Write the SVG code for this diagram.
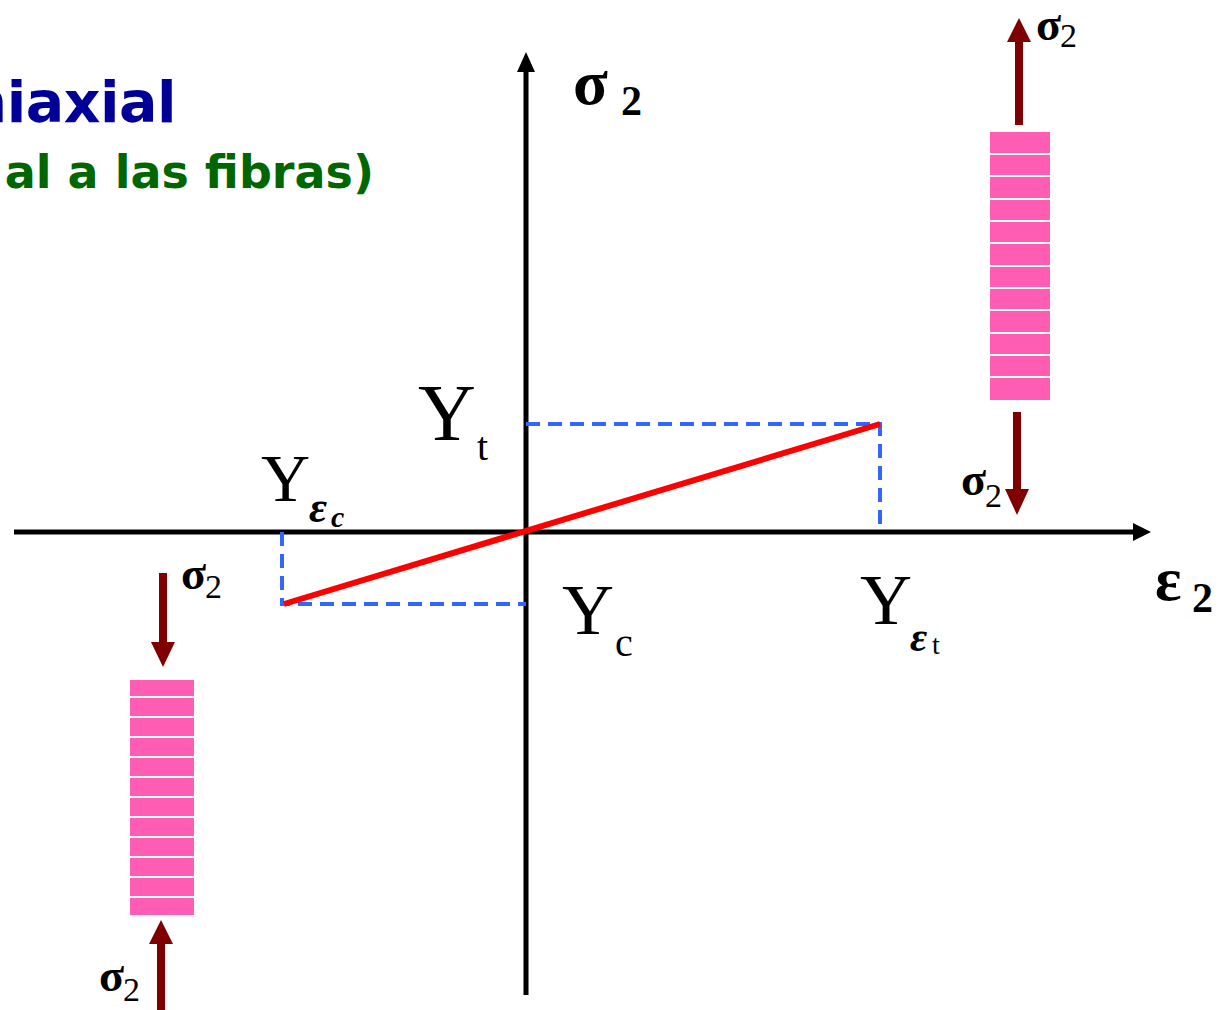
<svg xmlns="http://www.w3.org/2000/svg" width="1225" height="1010" viewBox="0 0 1225 1010">
<style>
.ax{stroke:#000;stroke-width:5;fill:none}
.dash{stroke:#3366ff;stroke-width:4;fill:none;stroke-dasharray:14 8}
.force{fill:#7f0000}
.bar{fill:#ff5cb4}
.stripe{stroke:#fff;stroke-width:2}
.tm{font-family:"Liberation Serif","Times New Roman",serif;fill:#000}
.big{font-size:72px}
.sub{font-size:40px}
.sig{font-size:46px;font-weight:bold}
.sig2{font-size:34px}
</style>
<rect width="1225" height="1010" fill="#fff"/>
<g id="title">
<text x="176" y="122" text-anchor="end" font-family="DejaVu Sans,Verdana,sans-serif" font-weight="bold" font-size="57" letter-spacing="-0.5" fill="#000099">niaxial</text>
<text x="374" y="188" text-anchor="end" font-family="DejaVu Sans,Verdana,sans-serif" font-weight="bold" font-size="46" fill="#006600">al a las fibras)</text>
</g>
<g id="connectors">
<line class="ax" x1="14" y1="532" x2="1136" y2="532"/>
<polygon points="1151,532 1133,523 1133,541" fill="#000"/>
<line class="ax" x1="526" y1="995" x2="526" y2="68"/>
<polygon points="526,52 517,72 535,72" fill="#000"/>
<path class="dash" d="M526,424 H880 V532"/>
<path class="dash" d="M282,532 V604 H526"/>
<line x1="284" y1="604" x2="880" y2="424" stroke="#ff0000" stroke-width="6"/>
</g>
<g id="axis-labels">
<text class="tm" x="573" y="104" font-size="64" font-weight="bold">σ</text>
<text class="tm" x="621" y="115" font-size="42" font-weight="bold">2</text>
<text class="tm" x="1155" y="600" font-size="62" font-weight="bold">ε</text>
<text class="tm" x="1192" y="612" font-size="42" font-weight="bold">2</text>
</g>
<g id="label-Yt">
<text class="tm" x="418" y="440" font-size="80">Y</text>
<text class="tm sub" x="477" y="460">t</text>
</g>
<g id="label-Yec">
<text class="tm" x="261" y="501" font-size="68">Y</text>
<text class="tm" x="309" y="522" font-size="44" font-style="italic" font-weight="bold">ε</text>
<text class="tm" x="331" y="527" font-size="30" font-style="italic" font-weight="bold">c</text>
</g>
<g id="label-Yc">
<text class="tm big" x="562" y="634">Y</text>
<text class="tm sub" x="615" y="656">c</text>
</g>
<g id="label-Yet">
<text class="tm big" x="860" y="624">Y</text>
<text class="tm" x="910" y="651" font-size="42" font-style="italic" font-weight="bold">ε</text>
<text class="tm" x="932" y="654" font-size="28">t</text>
</g>
<g id="specimen-tension">
<rect class="bar" x="990" y="132" width="60" height="268"/>
<g class="stripe">
<line x1="990" y1="154" x2="1050" y2="154"/><line x1="990" y1="176" x2="1050" y2="176"/>
<line x1="990" y1="199" x2="1050" y2="199"/><line x1="990" y1="221" x2="1050" y2="221"/>
<line x1="990" y1="243" x2="1050" y2="243"/><line x1="990" y1="266" x2="1050" y2="266"/>
<line x1="990" y1="288" x2="1050" y2="288"/><line x1="990" y1="310" x2="1050" y2="310"/>
<line x1="990" y1="333" x2="1050" y2="333"/><line x1="990" y1="355" x2="1050" y2="355"/>
<line x1="990" y1="377" x2="1050" y2="377"/>
</g>
<rect class="force" x="1015" y="40" width="8" height="85"/>
<polygon class="force" points="1019,18 1007,42 1031,42"/>
<text class="tm sig" x="1036" y="40">σ</text>
<text class="tm sig2" x="1060" y="47">2</text>
<rect class="force" x="1013" y="412" width="8" height="78"/>
<polygon class="force" points="1017,515 1005,489 1029,489"/>
<text class="tm sig" x="961" y="495">σ</text>
<text class="tm sig2" x="985" y="507">2</text>
</g>
<g id="specimen-compression">
<rect class="bar" x="130" y="680" width="64" height="235"/>
<g class="stripe">
<line x1="130" y1="697" x2="194" y2="697"/><line x1="130" y1="717" x2="194" y2="717"/>
<line x1="130" y1="737" x2="194" y2="737"/><line x1="130" y1="757" x2="194" y2="757"/>
<line x1="130" y1="777" x2="194" y2="777"/><line x1="130" y1="797" x2="194" y2="797"/>
<line x1="130" y1="817" x2="194" y2="817"/><line x1="130" y1="837" x2="194" y2="837"/>
<line x1="130" y1="857" x2="194" y2="857"/><line x1="130" y1="877" x2="194" y2="877"/>
<line x1="130" y1="897" x2="194" y2="897"/>
</g>
<rect class="force" x="159" y="573" width="8" height="70"/>
<polygon class="force" points="163,667 151,642 175,642"/>
<text class="tm sig" x="181" y="589">σ</text>
<text class="tm sig2" x="205" y="598">2</text>
<rect class="force" x="157" y="942" width="8" height="68"/>
<polygon class="force" points="161,920 149,944 173,944"/>
<text class="tm sig" x="99" y="991">σ</text>
<text class="tm sig2" x="123" y="1001">2</text>
</g>
</svg>
